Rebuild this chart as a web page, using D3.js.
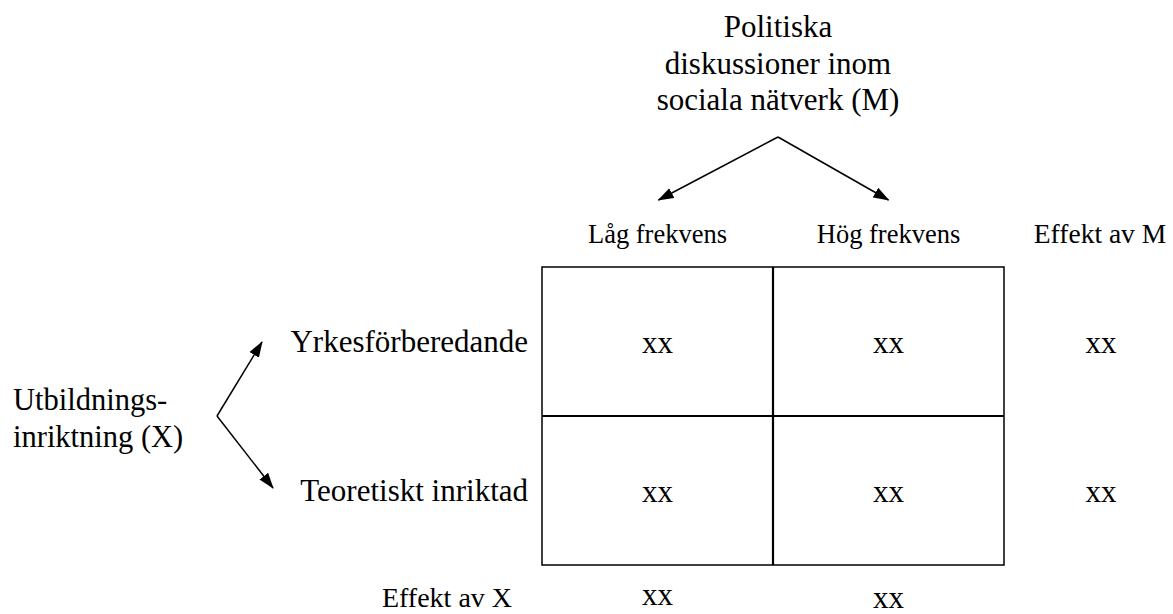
<!DOCTYPE html>
<html lang="sv">
<head>
<meta charset="UTF-8">
<title>Utbildningsinriktning x politiska diskussioner</title>
<script src="https://d3js.org/d3.v7.min.js"></script>
<style>
    body { margin: 0; background: #fff; }
    svg { display: block; }
</style>
</head>
<body>
<div id="chart"></div>
<script>
    // Data
    const columns = ["Låg frekvens", "Hög frekvens"];
    const rows = ["Yrkesförberedande", "Teoretiskt inriktad"];
    const cellValues = [["xx", "xx"], ["xx", "xx"]];
    const effectM = ["xx", "xx"];       // one per row
    const effectX = ["xx", "xx"];       // one per column
    const mTitle = ["Politiska", "diskussioner inom", "sociala nätverk (M)"];
    const xTitle = ["Utbildnings-", "inriktning (X)"];

    const width = 1173, height = 614;

    const svg = d3.select("#chart").append("svg")
        .attr("width", width)
        .attr("height", height)
        .attr("font-family", "Liberation Serif, Times New Roman, serif");

    const x = d3.scaleBand().domain(columns).range([542, 1004]);
    const y = d3.scaleBand().domain(rows).range([267, 565]);
    const cx = d => x(d) + x.bandwidth() / 2;
    const cy = d => y(d) + y.bandwidth() / 2;

    // arrow head
    svg.append("defs").append("marker")
        .attr("id", "arrow")
        .attr("viewBox", "0 0 16 12")
        .attr("refX", 15).attr("refY", 6)
        .attr("markerWidth", 16).attr("markerHeight", 12)
        .attr("markerUnits", "userSpaceOnUse")
        .attr("orient", "auto")
        .append("path")
        .attr("d", "M0,0.5 L16,6 L0,11.5 Z")
        .attr("fill", "#000");

    // grid
    const grid = svg.append("g");
    grid.append("rect")
        .attr("x", x.range()[0]).attr("y", y.range()[0])
        .attr("width", x.range()[1] - x.range()[0])
        .attr("height", y.range()[1] - y.range()[0])
        .attr("fill", "none").attr("stroke", "#000").attr("stroke-width", 1.5);
    grid.append("line")
        .attr("x1", x(columns[1])).attr("x2", x(columns[1]))
        .attr("y1", y.range()[0]).attr("y2", y.range()[1])
        .attr("stroke", "#000").attr("stroke-width", 2.2);
    grid.append("line")
        .attr("x1", x.range()[0]).attr("x2", x.range()[1])
        .attr("y1", y(rows[1])).attr("y2", y(rows[1]))
        .attr("stroke", "#000").attr("stroke-width", 2);

    // cell values
    rows.forEach((r, i) => {
        columns.forEach((c, j) => {
            svg.append("text")
                .attr("x", cx(c)).attr("y", cy(r) + 11)
                .attr("text-anchor", "middle")
                .attr("font-size", 31)
                .text(cellValues[i][j]);
        });
    });

    // column headers
    svg.selectAll(".col-label")
        .data(columns).enter().append("text")
        .attr("class", "col-label")
        .attr("x", d => cx(d)).attr("y", 243)
        .attr("text-anchor", "middle")
        .attr("font-size", 26.5)
        .text(d => d);

    svg.append("text")
        .attr("x", 1100).attr("y", 243)
        .attr("text-anchor", "middle")
        .attr("font-size", 27.5)
        .text("Effekt av M");

    // row labels
    svg.selectAll(".row-label")
        .data(rows).enter().append("text")
        .attr("class", "row-label")
        .attr("x", 528).attr("y", d => cy(d) + 10)
        .attr("text-anchor", "end")
        .attr("font-size", 31)
        .text(d => d);

    // effect of M per row
    svg.selectAll(".eff-m")
        .data(effectM).enter().append("text")
        .attr("class", "eff-m")
        .attr("x", 1101).attr("y", (d, i) => cy(rows[i]) + 11)
        .attr("text-anchor", "middle")
        .attr("font-size", 31)
        .text(d => d);

    // effect of X per column
    svg.append("text")
        .attr("x", 447).attr("y", 607)
        .attr("text-anchor", "middle")
        .attr("font-size", 28)
        .text("Effekt av X");
    svg.selectAll(".eff-x")
        .data(effectX).enter().append("text")
        .attr("class", "eff-x")
        .attr("x", (d, i) => cx(columns[i]))
        .attr("y", (d, i) => i === 0 ? 605 : 608)
        .attr("text-anchor", "middle")
        .attr("font-size", 31)
        .text(d => d);

    // title M
    svg.append("text")
        .attr("x", 778).attr("y", 37)
        .attr("text-anchor", "middle")
        .attr("font-size", 31)
        .selectAll("tspan").data(mTitle).enter().append("tspan")
        .attr("x", 778).attr("dy", (d, i) => i === 0 ? 0 : 36.5)
        .text(d => d);

    // title X
    svg.append("text")
        .attr("x", 13).attr("y", 410)
        .attr("font-size", 30.5)
        .selectAll("tspan").data(xTitle).enter().append("tspan")
        .attr("x", 13).attr("dy", (d, i) => i === 0 ? 0 : 37)
        .text(d => d);

    // arrows from M down to the columns
    const mApex = [778, 137];
    columns.forEach(c => {
        svg.append("line")
            .attr("x1", mApex[0]).attr("y1", mApex[1])
            .attr("x2", cx(c) + (c === columns[0] ? 1 : 0)).attr("y2", 200)
            .attr("stroke", "#000").attr("stroke-width", 1.5)
            .attr("marker-end", "url(#arrow)");
    });

    // arrows from X to the rows
    const xApex = [217, y(rows[1])];
    const xTips = [[262, 342], [273, 488]];
    xTips.forEach(t => {
        svg.append("line")
            .attr("x1", xApex[0]).attr("y1", xApex[1])
            .attr("x2", t[0]).attr("y2", t[1])
            .attr("stroke", "#000").attr("stroke-width", 1.5)
            .attr("marker-end", "url(#arrow)");
    });
</script>
</body>
</html>
